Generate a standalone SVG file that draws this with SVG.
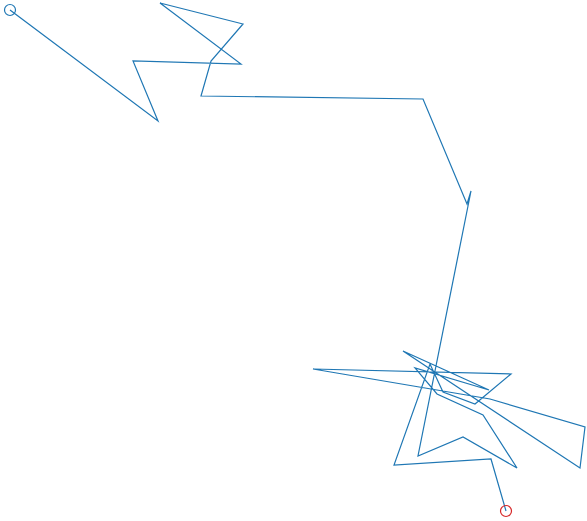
<svg xmlns="http://www.w3.org/2000/svg" width="587" height="521" viewBox="0 0 587 521">
<style>
.walk{fill:none;stroke:#1f77b4;stroke-width:1.2;stroke-linejoin:miter}
.start{fill:none;stroke:#1f77b4;stroke-width:1.2}
.end{fill:none;stroke:#d62728;stroke-width:1.2}
</style>
<rect width="587" height="521" fill="#ffffff"/>
<g id="path">
<polyline class="walk" points="10,10 158,121 133,61 241,64 160,3 243,24 211,61 201,96 423,99 467,204 471,191 418,456 463,437 517,468 483,415 437,394 415,368 489,390 403,351 580,468 585,427 490,399 313,369 511,374 475,404 443,392 430,364 394,465 491,459 506,511"/>
</g>
<g id="start-marker"><circle class="start" cx="10" cy="10" r="5.5"/></g>
<g id="end-marker"><circle class="end" cx="506" cy="511" r="5.5"/></g>
</svg>
